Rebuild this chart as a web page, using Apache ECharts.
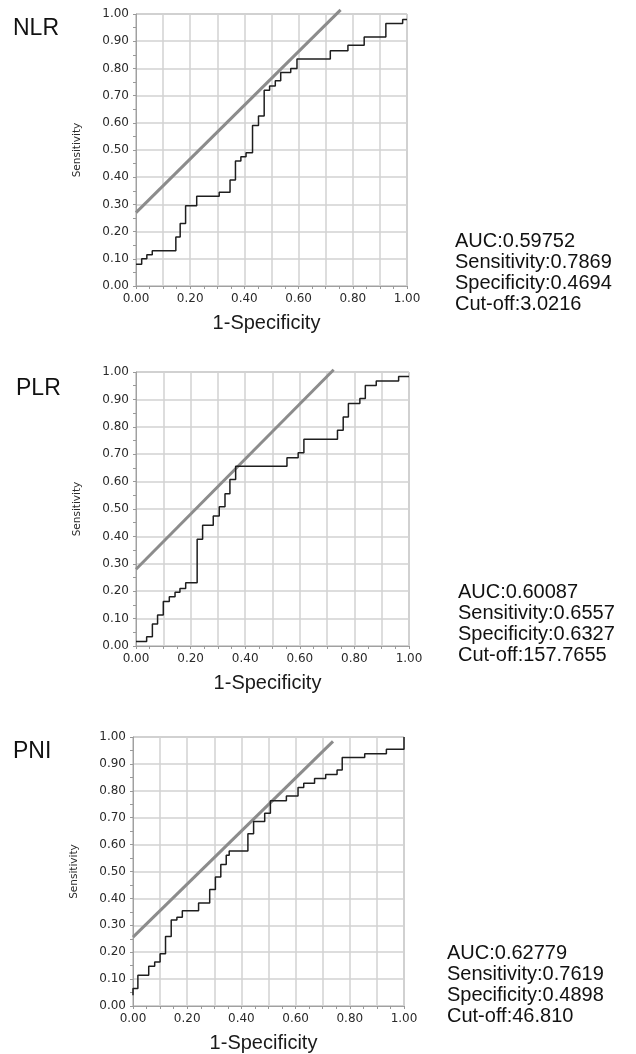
<!DOCTYPE html>
<html>
<head>
<meta charset="utf-8">
<title>ROC curves</title>
<script src="https://cdn.jsdelivr.net/npm/echarts@6/dist/echarts.min.js"></script>
<style>
    html, body { margin: 0; padding: 0; background: #fff; }
    #main { width: 636px; height: 1054px; }
</style>
</head>
<body>
<div id="main"></div>
<script>
// ROC step curves: x = start of each level, y = sensitivity at that level
var nlrX = [0, 0.021, 0.04, 0.06, 0.147, 0.163, 0.183, 0.224, 0.307, 0.347, 0.367, 0.387, 0.406, 0.43, 0.452, 0.473, 0.493, 0.514, 0.534, 0.571, 0.594, 0.717, 0.782, 0.842, 0.922, 0.984, 1.0];
var nlrY = [0.08, 0.10, 0.115, 0.13, 0.18, 0.23, 0.295, 0.33, 0.345, 0.39, 0.46, 0.475, 0.49, 0.59, 0.625, 0.72, 0.735, 0.755, 0.785, 0.80, 0.835, 0.865, 0.885, 0.915, 0.965, 0.98, 0.98];

var plrX = [0, 0.039, 0.06, 0.079, 0.10, 0.122, 0.143, 0.161, 0.182, 0.224, 0.244, 0.283, 0.305, 0.326, 0.344, 0.365, 0.553, 0.594, 0.615, 0.738, 0.759, 0.778, 0.82, 0.84, 0.88, 0.962, 1.0];
var plrY = [0.016, 0.034, 0.08, 0.113, 0.162, 0.18, 0.196, 0.21, 0.231, 0.39, 0.441, 0.474, 0.508, 0.556, 0.608, 0.656, 0.687, 0.705, 0.755, 0.787, 0.836, 0.885, 0.903, 0.951, 0.967, 0.984, 0.984];

var pniX = [0, 0, 0.018, 0.058, 0.08, 0.10, 0.12, 0.141, 0.162, 0.182, 0.242, 0.283, 0.304, 0.324, 0.344, 0.355, 0.424, 0.445, 0.486, 0.507, 0.566, 0.609, 0.63, 0.67, 0.711, 0.753, 0.772, 0.855, 0.935, 1.0, 1.0];
var pniY = [0.04, 0.065, 0.114, 0.148, 0.164, 0.194, 0.258, 0.32, 0.33, 0.354, 0.383, 0.433, 0.48, 0.526, 0.56, 0.576, 0.64, 0.686, 0.717, 0.763, 0.781, 0.812, 0.828, 0.846, 0.861, 0.877, 0.924, 0.938, 0.954, 0.954, 1.0];

// tangent (reference) lines, two end points each
var nlrLine = [[0, 0.27], [0.755, 1.015]];
var plrLine = [[0, 0.28], [0.724, 1.008]];
var pniLine = [[0, 0.256], [0.738, 0.984]];

var panelNames = ['NLR', 'PLR', 'PNI'];
var statNames = ['AUC', 'Sensitivity', 'Specificity', 'Cut-off'];
var nlrStats = ['0.59752', '0.7869', '0.4694', '3.0216'];
var plrStats = ['0.60087', '0.6557', '0.6327', '157.7655'];
var pniStats = ['0.62779', '0.7619', '0.4898', '46.810'];

function zip(xs, ys) {
    var out = [];
    for (var i = 0; i < xs.length; i++) {
        out.push([xs[i], ys[i]]);
    }
    return out;
}

var panels = [
    { name: panelNames[0], x: nlrX, y: nlrY, line: nlrLine, stats: nlrStats,
      grid: { left: 136, top: 14, width: 271, height: 272 }, label: [13, 29], statPos: [455, 241] },
    { name: panelNames[1], x: plrX, y: plrY, line: plrLine, stats: plrStats,
      grid: { left: 136, top: 372, width: 273, height: 274 }, label: [16, 389], statPos: [458, 592] },
    { name: panelNames[2], x: pniX, y: pniY, line: pniLine, stats: pniStats,
      grid: { left: 133, top: 737, width: 271, height: 271 }, label: [13, 752], statPos: [447, 953] }
];

var tickFont = 'DejaVu Sans';
var textFont = 'Liberation Sans, Arial, sans-serif';

var grids = [], xAxes = [], yAxes = [], series = [], graphics = [];

panels.forEach(function(p, i) {
    grids.push({
        left: p.grid.left, top: p.grid.top, width: p.grid.width, height: p.grid.height,
        show: true, borderColor: '#a0a0a0', borderWidth: 1, backgroundColor: '#fff'
    });

    var axisCommon = {
        gridIndex: i,
        type: 'value',
        min: 0,
        max: 1,
        interval: 0.1,
        axisLine: { show: true, lineStyle: { color: '#a0a0a0', width: 1 } },
        axisTick: { show: true, length: 3, lineStyle: { color: '#999' } },
        minorTick: { show: true, splitNumber: 2, length: 3, lineStyle: { color: '#999' } },
        splitLine: { show: true, lineStyle: { color: '#d2d2d2', width: 1.5 } }
    };

    xAxes.push(echarts.util.merge({
        name: '1-Specificity',
        nameLocation: 'middle',
        nameGap: 27,
        nameTextStyle: { fontFamily: textFont, fontSize: 20, color: '#1a1a1a', padding: [0, 10, 0, 0] },
        axisLabel: {
            margin: 7,
            fontFamily: tickFont,
            fontSize: 12,
            color: '#2a2a2a',
            // only every second tick carries a label
            formatter: function(v) {
                return Math.round(v * 10) % 2 ? '' : v.toFixed(2);
            }
        }
    }, axisCommon, false));

    yAxes.push(echarts.util.merge({
        name: 'Sensitivity',
        nameLocation: 'middle',
        nameGap: 53,
        nameTextStyle: { fontFamily: tickFont, fontSize: 10.5, color: '#2a2a2a' },
        axisLabel: {
            margin: 7,
            fontFamily: tickFont,
            fontSize: 12,
            color: '#2a2a2a',
            formatter: function(v) { return v.toFixed(2); }
        }
    }, axisCommon, false));

    series.push({
        type: 'line',
        xAxisIndex: i,
        yAxisIndex: i,
        data: p.line,
        showSymbol: false,
        clip: false,
        lineStyle: { color: '#8c8c8c', width: 3 },
        z: 3
    });

    series.push({
        type: 'line',
        xAxisIndex: i,
        yAxisIndex: i,
        data: zip(p.x, p.y),
        step: 'end',
        showSymbol: false,
        lineStyle: { color: '#1e1e1e', width: 1.5 },
        z: 4
    });

    graphics.push({
        type: 'text',
        x: p.label[0],
        y: p.label[1],
        style: { text: p.name, font: '23px ' + textFont, fill: '#111', verticalAlign: 'middle' }
    });

    statNames.forEach(function(s, k) {
        graphics.push({
            type: 'text',
            x: p.statPos[0],
            y: p.statPos[1] + k * 21,
            style: { text: s + ':' + p.stats[k], font: '20px ' + textFont, fill: '#111', verticalAlign: 'middle' }
        });
    });
});

var chart = echarts.init(document.getElementById('main'), null, { renderer: 'canvas' });
chart.setOption({
    animation: false,
    backgroundColor: '#fff',
    grid: grids,
    xAxis: xAxes,
    yAxis: yAxes,
    series: series,
    graphic: graphics
});
</script>
</body>
</html>
